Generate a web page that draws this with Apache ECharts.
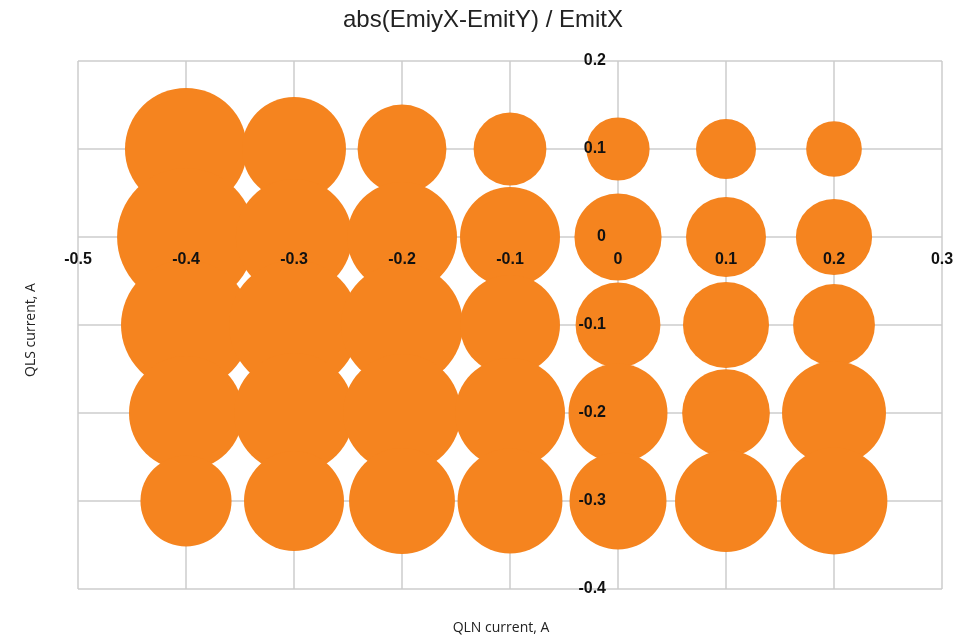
<!DOCTYPE html>
<html>
<head>
<meta charset="utf-8">
<script src="https://cdn.jsdelivr.net/npm/echarts@6/dist/echarts.min.js"></script>
<style>
  html, body { margin: 0; padding: 0; background: #fff; }
  #Chart { width: 966px; height: 637px; }
</style>
</head>
<body>
<div id="Chart"></div>
<script>
// QLN current (x) and QLS current (y) grid positions
var qlnValues = [-0.4, -0.3, -0.2, -0.1, 0, 0.1, 0.2];
var qlsValues = [0.1, 0, -0.1, -0.2, -0.3];

// abs(EmiyX-EmitY) / EmitX, one row per QLS value (relative bubble size)
var ratioRow1 = [1.49, 1.08, 0.79, 0.53, 0.40, 0.36, 0.31];
var ratioRow2 = [1.90, 1.35, 1.21, 1.00, 0.76, 0.64, 0.58];
var ratioRow3 = [1.69, 1.69, 1.49, 1.00, 0.72, 0.74, 0.67];
var ratioRow4 = [1.30, 1.44, 1.39, 1.21, 0.98, 0.77, 1.08];
var ratioRow5 = [0.83, 1.00, 1.12, 1.10, 0.94, 1.04, 1.14];
var ratioRows = [ratioRow1, ratioRow2, ratioRow3, ratioRow4, ratioRow5];

var bubbles = [];
qlsValues.forEach(function (y, i) {
    qlnValues.forEach(function (x, j) {
        bubbles.push([x, y, ratioRows[i][j]]);
    });
});

var Chart = echarts.init(document.getElementById('Chart'));

var labelFont = {
    fontFamily: 'Liberation Sans',
    fontWeight: 'bold',
    fontSize: 16,
    color: '#111'
};

// axes cross at zero: grid is 78..942 x 61..589, zero sits at x=618, y=237
var ChartOption = {
    animation: false,
    title: {
        text: 'abs(EmiyX-EmitY) / EmitX',
        left: 'center',
        top: 3,
        textStyle: {
            fontFamily: 'Liberation Sans',
            fontWeight: 'normal',
            fontSize: 24,
            color: '#222'
        }
    },
    grid: {
        left: 78,
        right: 24,
        top: 61,
        bottom: 48
    },
    xAxis: [{
        type: 'value',
        min: -0.5,
        max: 0.3,
        interval: 0.1,
        z: 0,
        axisLine: { show: false, onZero: false },
        axisTick: { show: false },
        axisLabel: { show: false },
        splitLine: { show: true, lineStyle: { color: '#cccccc', width: 1.5 } }
    }, {
        type: 'value',
        position: 'bottom',
        offset: -352,
        min: -0.5,
        max: 0.3,
        interval: 0.1,
        z: 5,
        axisLine: { show: false, onZero: false },
        axisTick: { show: false },
        splitLine: { show: false },
        axisLabel: Object.assign({ margin: 15 }, labelFont)
    }],
    yAxis: [{
        type: 'value',
        min: -0.4,
        max: 0.2,
        interval: 0.1,
        z: 0,
        axisLine: { show: false, onZero: false },
        axisTick: { show: false },
        axisLabel: { show: false },
        splitLine: { show: true, lineStyle: { color: '#cccccc', width: 1.5 } }
    }, {
        type: 'value',
        position: 'left',
        offset: -540,
        min: -0.4,
        max: 0.2,
        interval: 0.1,
        z: 5,
        axisLine: { show: false, onZero: false },
        axisTick: { show: false },
        splitLine: { show: false },
        axisLabel: Object.assign({ margin: 12 }, labelFont)
    }],
    graphic: [{
        type: 'text',
        x: 501,
        y: 628,
        style: {
            text: 'QLN current, A',
            font: '14px "Open Sans"',
            fill: '#222',
            align: 'center',
            verticalAlign: 'middle'
        }
    }, {
        type: 'text',
        x: 31,
        y: 330,
        rotation: Math.PI / 2,
        style: {
            text: 'QLS current, A',
            font: '14px "Open Sans"',
            fill: '#222',
            align: 'center',
            verticalAlign: 'middle'
        }
    }],
    series: [{
        type: 'scatter',
        xAxisIndex: 0,
        yAxisIndex: 0,
        z: 2,
        data: bubbles,
        symbolSize: function (v) {
            return 100 * Math.sqrt(v[2]);
        },
        itemStyle: {
            color: '#f5841f',
            opacity: 1
        }
    }]
};

Chart.setOption(ChartOption);
window.addEventListener("resize", function () {
    Chart.resize();
});
</script>
</body>
</html>
